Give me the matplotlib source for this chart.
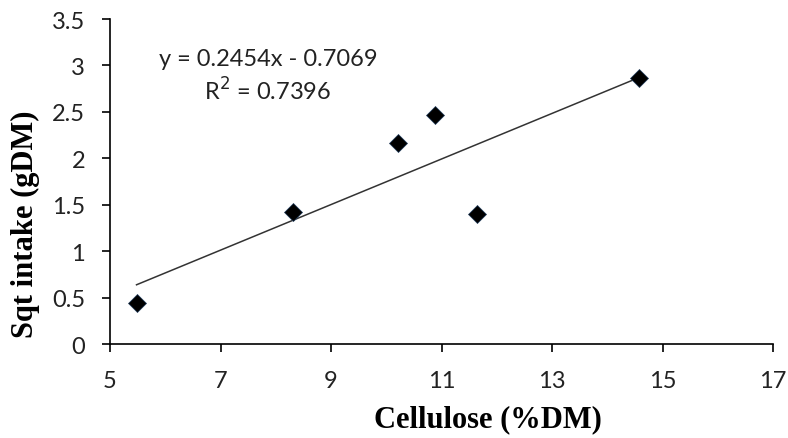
import numpy as np
import matplotlib
matplotlib.use('Agg')
import matplotlib.pyplot as plt

# cellulose (%DM) vs sqt intake (gDM)
cellulose = [5.48, 8.31, 10.21, 10.88, 11.64, 14.57]
intake = [0.44, 1.42, 2.17, 2.47, 1.40, 2.86]

# linear trend line from the chart
slope = 0.2454
intercept = -0.7069
r2 = 0.7396

x_ticks = [5, 7, 9, 11, 13, 15, 17]
y_ticks = [0, 0.5, 1, 1.5, 2, 2.5, 3, 3.5]

fig = plt.figure(figsize=(7.88, 4.39), dpi=100)
ax = fig.add_axes([0.1396, 0.2141, 0.8414, 0.7403])

# trend line
xl = np.array([min(cellulose), max(cellulose)])
ax.plot(xl, slope * xl + intercept, color='#333333', lw=1.1, zorder=2)

# points
ax.plot(cellulose, intake, linestyle='none', marker='D', markersize=9,
        color='black', markeredgecolor='#1f3a5a', markeredgewidth=0.5, zorder=3)

ax.set_xlim(5, 17)
ax.set_ylim(0, 3.5)
ax.set_xticks(x_ticks)
ax.set_yticks(y_ticks)
ax.set_xticklabels([str(t) for t in x_ticks])
ax.set_yticklabels(['0', '0.5', '1', '1.5', '2', '2.5', '3', '3.5'])

for s in ['top', 'right']:
    ax.spines[s].set_visible(False)
for s in ['left', 'bottom']:
    ax.spines[s].set_linewidth(1.2)
    ax.spines[s].set_color('black')

ax.tick_params(axis='both', direction='out', length=6, width=1.2, color='black',
               labelsize=17, labelcolor='#222222')
ax.tick_params(axis='x', pad=13)
ax.tick_params(axis='y', pad=12)
for lab in ax.get_xticklabels() + ax.get_yticklabels():
    lab.set_fontfamily('Lato')

# equation text
ax.text(7.86, 3.07, 'y = 0.2454x - 0.7069', ha='center', va='center',
        fontsize=17, family='Lato', color='#222222')
ax.text(7.86, 2.74, 'R$^2$ = %.4f' % r2, ha='center', va='center',
        fontsize=17, family='Lato', color='#222222')

fig.text(488 / 788, 1 - 420 / 439, 'Cellulose (%DM)', ha='center', va='center',
         fontsize=22, fontweight='bold', family='Liberation Serif')
fig.text(25 / 788, 1 - 224 / 439, 'Sqt intake (gDM)', ha='center', va='center',
         rotation=90, fontsize=22, fontweight='bold', family='Liberation Serif')

fig.savefig('out.png', dpi=100)
